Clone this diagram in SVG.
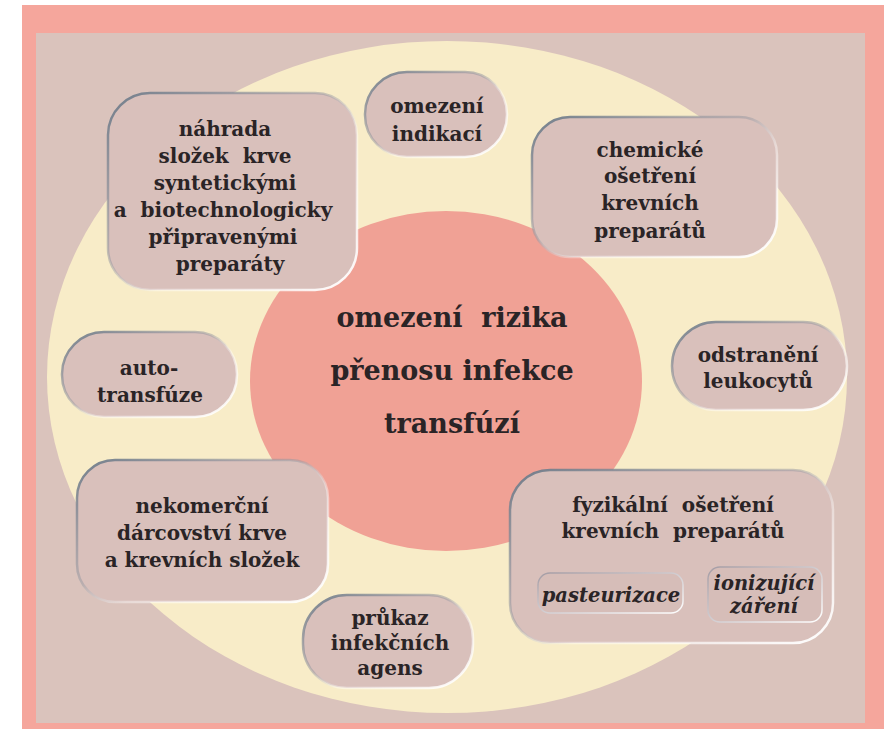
<svg xmlns="http://www.w3.org/2000/svg" width="890" height="729" viewBox="0 0 890 729">
<defs>
<linearGradient id="edge" x1="0" y1="0" x2="1" y2="1">
<stop offset="0" stop-color="#6f7c8a"/>
<stop offset="0.45" stop-color="#9a9aa2" stop-opacity="0.5"/>
<stop offset="0.6" stop-color="#ffffff" stop-opacity="0.4"/>
<stop offset="1" stop-color="#ffffff"/>
</linearGradient>
<linearGradient id="subedge" x1="0" y1="0" x2="1" y2="1">
<stop offset="0" stop-color="#a49ca4"/>
<stop offset="1" stop-color="#ffffff"/>
</linearGradient>
</defs>
<style>
.box{fill:#d9c0bb;stroke:url(#edge);stroke-width:2.5}
.sub{fill:#d6bdb8;stroke:url(#subedge);stroke-width:1.5}
.t{font-family:"DejaVu Serif","Liberation Serif",serif;font-weight:bold;font-size:20px;fill:#2a2426;text-anchor:middle}
.c{font-size:27px}
.i{font-style:italic;font-size:19.5px}
</style>
<rect x="0" y="0" width="890" height="729" fill="#ffffff"/>
<rect x="22" y="5" width="862" height="724" fill="#f5a69c"/>
<rect x="36" y="33" width="829" height="690" fill="#dac3bc"/>
<ellipse cx="447" cy="377" rx="400" ry="336" fill="#f8ecc8"/>
<g id="center">
<ellipse cx="446" cy="381" rx="196" ry="170" fill="#f0a195"/>
<text class="t c" x="452" y="327" xml:space="preserve">omezení  rizika</text>
<text class="t c" x="452" y="380">přenosu infekce</text>
<text class="t c" x="452" y="433">transfúzí</text>
</g>
<g id="connectors"></g>
<g id="n1">
<rect class="box" x="108" y="93" width="249" height="197" rx="42"/>
<text class="t" x="225" y="136">náhrada</text>
<text class="t" x="225" y="163" xml:space="preserve">složek  krve</text>
<text class="t" x="225" y="190">syntetickými</text>
<text class="t" x="223" y="217" xml:space="preserve">a  biotechnologicky</text>
<text class="t" x="223" y="244">připravenými</text>
<text class="t" x="230" y="271">preparáty</text>
</g>
<g id="n2">
<rect class="box" x="365" y="72" width="142" height="85" rx="42"/>
<text class="t" x="437" y="113">omezení</text>
<text class="t" x="437" y="141">indikací</text>
</g>
<g id="n3">
<rect class="box" x="532" y="117" width="245" height="140" rx="38"/>
<text class="t" x="650" y="157">chemické</text>
<text class="t" x="650" y="183">ošetření</text>
<text class="t" x="650" y="210">krevních</text>
<text class="t" x="650" y="238">preparátů</text>
</g>
<g id="n4">
<rect class="box" x="672" y="322" width="175" height="88" rx="44"/>
<text class="t" x="758" y="362">odstranění</text>
<text class="t" x="758" y="388">leukocytů</text>
</g>
<g id="n5">
<rect class="box" x="62" y="332" width="175" height="85" rx="42"/>
<text class="t" x="149" y="375">auto-</text>
<text class="t" x="150" y="402">transfúze</text>
</g>
<g id="n6">
<rect class="box" x="77" y="460" width="251" height="142" rx="38"/>
<text class="t" x="202" y="513">nekomerční</text>
<text class="t" x="202" y="540">dárcovství krve</text>
<text class="t" x="202" y="567">a krevních složek</text>
</g>
<g id="n7">
<rect class="box" x="303" y="595" width="170" height="93" rx="44"/>
<text class="t" x="390" y="625">průkaz</text>
<text class="t" x="390" y="650">infekčních</text>
<text class="t" x="390" y="675">agens</text>
</g>
<g id="n8">
<rect class="box" x="510" y="470" width="323" height="173" rx="40"/>
<text class="t" x="673" y="512" xml:space="preserve">fyzikální  ošetření</text>
<text class="t" x="673" y="538" xml:space="preserve">krevních  preparátů</text>
<g id="n8a">
<rect class="sub" x="538" y="573" width="145" height="40" rx="12"/>
<text class="t i" x="611" y="602">pasteurizace</text>
</g>
<g id="n8b">
<rect class="sub" x="708" y="567" width="114" height="55" rx="12"/>
<text class="t i" x="764" y="590">ionizující</text>
<text class="t i" x="764" y="613">záření</text>
</g>
</g>
</svg>
